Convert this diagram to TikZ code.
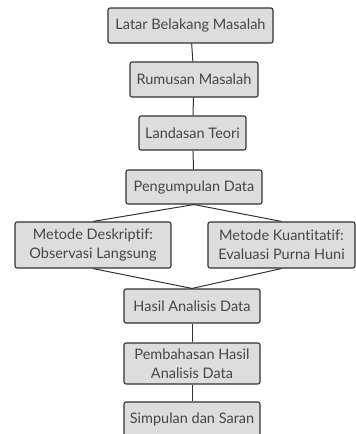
\documentclass[tikz,border=0pt]{standalone}
\usepackage{fontspec}
\setmainfont{Lato}[Ligatures=NoCommon]
\usetikzlibrary{positioning}
\definecolor{boxgray}{RGB}{221,221,221}
\definecolor{edgegray}{RGB}{50,50,50}
\tikzset{
  stepbox/.style={draw=edgegray, fill=boxgray, rounded corners=2pt, line width=1.1pt,
    align=center, inner sep=0pt, font=\fontsize{14.5}{19}\selectfont, text=edgegray!90},
  link/.style={draw=edgegray, line width=1pt}
}

\begin{document}
\begin{tikzpicture}[x=1pt, y=-1pt]
    \useasboundingbox (0,0) rectangle (356,434);
    \node[stepbox, minimum width=165pt, minimum height=35pt] (latar) at (190.5,25.5) {Latar Belakang Masalah};
    \node[stepbox, minimum width=128pt, minimum height=35pt] (rumusan) at (194,79.5) {Rumusan Masalah};
    \node[stepbox, minimum width=107pt, minimum height=34pt] (teori) at (192.5,133) {Landasan Teori};
    \node[stepbox, minimum width=136pt, minimum height=34pt] (kumpul) at (194,187) {Pengumpulan Data};

    \node[stepbox, minimum width=156pt, minimum height=46pt] (deskriptif) at (93,245) {Metode Deskriptif:\\Observasi Langsung};
    \node[stepbox, minimum width=147pt, minimum height=46pt] (kuantitatif) at (281.5,245) {Metode Kuantitatif:\\Evaluasi Purna Huni};

    \node[stepbox, minimum width=136pt, minimum height=34pt] (hasil) at (192,306) {Hasil Analisis Data};
    \node[stepbox, minimum width=136pt, minimum height=41pt] (bahas) at (192,363.5) {Pembahasan Hasil\\Analisis Data};
    \node[stepbox, minimum width=136pt, minimum height=35pt] (simpulan) at (192,419.5) {Simpulan dan Saran};

    \draw[link] (latar) -- (rumusan);
    \draw[link] (rumusan) -- (teori);
    \draw[link] (teori) -- (kumpul);
    \draw[link] (kumpul.south) -- (deskriptif.north);
    \draw[link] (kumpul.south) -- (kuantitatif.north);
    \draw[link] (deskriptif.south) -- (hasil.north);
    \draw[link] (kuantitatif.south) -- (hasil.north);
    \draw[link] (hasil) -- (bahas);
    \draw[link] (bahas) -- (simpulan);
\end{tikzpicture}
\end{document}
